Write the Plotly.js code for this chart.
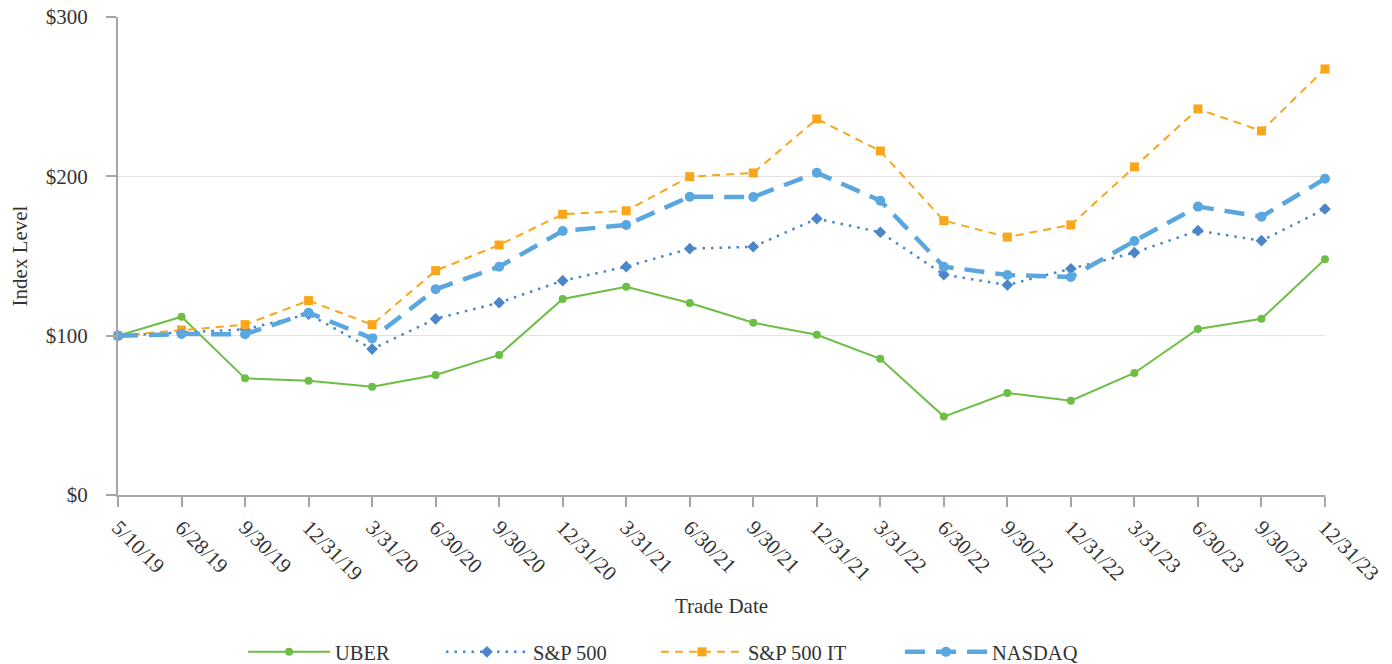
<!DOCTYPE html>
<html>
<head>
<meta charset="utf-8">
<script src="https://cdn.plot.ly/plotly-3.0.1.min.js"></script>
<style>html,body{margin:0;padding:0;background:#fff;}#chart{width:1392px;height:664px;}</style>
</head>
<body>
<div id="chart"></div>
<script>
const dates = ["5/10/19","6/28/19","9/30/19","12/31/19","3/31/20","6/30/20","9/30/20","12/31/20","3/31/21","6/30/21","9/30/21","12/31/21","3/31/22","6/30/22","9/30/22","12/31/22","3/31/23","6/30/23","9/30/23","12/31/23"];
const uber   = [100,111.9,73.2,71.7,68.0,75.3,87.9,123.0,130.7,120.5,108.1,100.6,85.5,49.2,64.0,59.2,76.6,104.2,110.6,148.0];
const sp500  = [100,102.0,104.0,113.5,91.6,110.6,120.7,134.5,143.3,154.6,155.8,173.4,164.9,138.3,131.8,142.0,152.1,165.9,159.6,179.5];
const sp500it= [100,103.6,106.9,122.0,106.9,140.8,156.9,176.2,178.4,199.8,202.1,236.0,215.9,172.2,161.9,169.5,205.9,242.3,228.5,267.4];
const nasdaq = [100,101.0,100.9,114.4,98.3,129.1,143.3,165.7,169.5,187.2,187.0,202.3,184.7,143.3,138.1,136.8,159.4,181.0,174.7,198.5];
const yTicks = [0,100,200,300];
const yTickText = ["$0","$100","$200","$300"];

const FONT = "Liberation Serif";
const TXT = "#333333";
const FS = 21;
const traces = [
  {name:"UBER", x:dates, y:uber, type:"scatter", mode:"lines+markers", cliponaxis:false, legend:"legend",
   line:{color:"#6cbe45", width:2}, marker:{symbol:"circle", size:8, color:"#6cbe45"}},
  {name:"S&P 500", x:dates, y:sp500, type:"scatter", mode:"lines+markers", cliponaxis:false, legend:"legend2",
   line:{color:"#4a86c8", width:2.5, dash:"2.5px,6px"}, marker:{symbol:"diamond", size:9, color:"#4a86c8"}},
  {name:"S&P 500 IT", x:dates, y:sp500it, type:"scatter", mode:"lines+markers", cliponaxis:false, legend:"legend3",
   line:{color:"#f9a61a", width:2, dash:"8px,6px"}, marker:{symbol:"square", size:9, color:"#f9a61a"}},
  {name:"NASDAQ", x:dates, y:nasdaq, type:"scatter", mode:"lines+markers", cliponaxis:false, legend:"legend4",
   line:{color:"#59a7de", width:4.5, dash:"20px,11px"}, marker:{symbol:"circle", size:10, color:"#59a7de"}}
];

function leg(x) {
  return {orientation:"h", x:x, xanchor:"left", y:-0.3285, yanchor:"middle", bgcolor:"rgba(0,0,0,0)",
          font:{family:FONT, size:20.5, color:TXT}, itemwidth:82};
}

const layout = {
  width:1392, height:664,
  margin:{l:118, r:67, t:17, b:169, autoexpand:false},
  paper_bgcolor:"#fff", plot_bgcolor:"#fff",
  font:{family:FONT, size:FS, color:TXT},
  showlegend:true,
  legend:leg(0.1036), legend2:leg(0.2676), legend3:leg(0.4457), legend4:leg(0.6479),
  xaxis:{type:"category", range:[0,19], showgrid:false, showline:true, linecolor:"#a6a6a6", linewidth:2,
         ticks:"outside", ticklen:10, tickcolor:"#a6a6a6", tickwidth:2, tickangle:45, zeroline:false,
         tickfont:{family:FONT, size:FS, color:TXT},
         title:{text:"Trade Date", font:{family:FONT, size:FS, color:TXT}, standoff:14}},
  yaxis:{range:[0,300], tickvals:yTicks, ticktext:yTickText, showgrid:true, gridcolor:"#e3e3e3", gridwidth:1.5,
         showline:true, linecolor:"#a6a6a6", linewidth:2, ticks:"outside", ticklen:10, tickcolor:"#a6a6a6", tickwidth:2,
         zeroline:false, ticklabelstandoff:14,
         tickfont:{family:FONT, size:FS, color:TXT},
         title:{text:"Index Level", font:{family:FONT, size:FS, color:TXT}, standoff:12}}
};
Plotly.newPlot("chart", traces, layout, {displayModeBar:false, staticPlot:true});
</script>
</body>
</html>
